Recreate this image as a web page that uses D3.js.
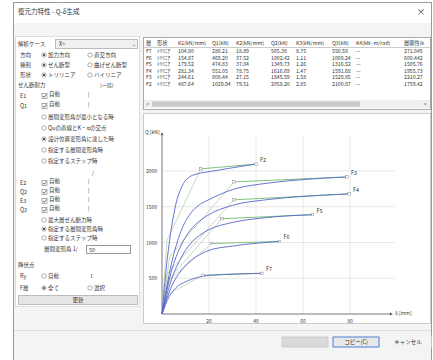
<!DOCTYPE html>
<html>
<head>
<meta charset="utf-8">
<script src="https://cdn.jsdelivr.net/npm/d3@7"></script>
<style>
	body { margin: 0; background: #fff; }
	svg text { font-family: "Noto Sans CJK JP", "Noto Sans", sans-serif; fill: #333; }
</style>
</head>
<body>
<div id="chart"></div>
<script>
// table data
var tableHeaders = ["層", "形状", "K1(kN/mm)", "Q1(kN)", "K2(kN/mm)", "Q2(kN)", "K3(kN/mm)", "Q3(kN)", "K4(kN·m/rad)", "層剛性(k"];
var floors = ["F7", "F6", "F5", "F4", "F3", "F2"];
var shapes = ["ﾄﾘﾘﾆｱ", "ﾄﾘﾘﾆｱ", "ﾄﾘﾘﾆｱ", "ﾄﾘﾘﾆｱ", "ﾄﾘﾘﾆｱ", "ﾄﾘﾘﾆｱ"];
var k1 = ["104.80", "154.87", "179.52", "281.34", "244.61", "487.64"];
var q1 = ["280.21", "469.20", "474.83", "551.05", "808.44", "1029.94"];
var k2 = ["18.89", "37.52", "37.04", "78.75", "27.15", "79.51"];
var q2 = ["565.38", "1002.42", "1349.73", "1616.69", "1845.59", "2058.20"];
var k3 = ["8.75", "1.11", "1.26", "1.47", "1.58", "2.85"];
var q3 = ["550.58", "1008.24", "1316.52", "1591.68", "1528.85", "2100.87"];
var k4 = ["—", "—", "—", "—", "—", "—"];
var stiff = ["271.045", "600.442", "1505.76", "1955.73", "2210.27", "1759.42"];

// chart data: curve labels, skeleton curves [δ(mm), Q(kN)], trilinear models
var curveNames = ["F2", "F3", "F4", "F5", "F6", "F7"];
var skeleton = [
	[[0,0],[2,700],[4,1200],[6,1550],[8,1750],[11,1900],[15,1960],[20,1990],[40,2097]],
	[[0,0],[4,700],[8,1150],[12,1400],[16,1530],[20,1600],[30,1740],[45,1830],[60,1880],[79,1917]],
	[[0,0],[4,600],[8,950],[12,1170],[16,1300],[20,1390],[30,1520],[45,1600],[60,1645],[80,1680]],
	[[0,0],[4,480],[8,780],[12,980],[16,1100],[20,1180],[30,1280],[45,1350],[64,1389]],
	[[0,0],[4,380],[8,600],[12,740],[16,830],[20,890],[30,950],[50,1014]],
	[[0,0],[3,240],[6,370],[10,450],[15,510],[20,540],[42.5,569]]
];
var trilinear = [
	[[0,0],[2.1,1030],[16.5,2030],[40,2097]],
	[[0,0],[3.3,808],[30.6,1847],[78.7,1917]],
	[[0,0],[2,551],[30.6,1597],[79.6,1680]],
	[[0,0],[2.6,475],[25.5,1333],[64,1389]],
	[[0,0],[3,469],[21,986],[50,1014]],
	[[0,0],[2.7,280],[17.5,542],[42.5,569]]
];
var xTicks = [20, 40, 60, 80];
var yTicks = [500, 1000, 1500, 2000];

// left panel rows: [label, y]
var leftLabels = [["解析ケース", 44], ["方向", 55], ["種別", 65], ["形状", 75], ["せん断耐力", 85],
	["E1", 96], ["Q1", 106], ["E2", 183], ["Q2", 192], ["E3", 201], ["Q3", 210], ["降伏点", 265], ["Ry", 276], ["F層", 288]];
var radios = [
	["加力方向", 55, 1, 44], ["直交方向", 55, 0, 90], ["せん断型", 65, 1, 44], ["曲げせん断型", 65, 0, 90],
	["トリリニア", 75, 1, 44], ["バイリニア", 75, 0, 90],
	["層間変形角が最小となる時", 117, 0, 44], ["Quの直線とK・αの交点", 128, 0, 44], ["設計位置変形角に達した時", 139, 1, 44],
	["指定する層間変形角時", 150, 0, 44], ["指定するステップ時", 161, 0, 44],
	["最大層せん断力時", 220, 0, 44], ["指定する層間変形角時", 229, 1, 44], ["指定するステップ時", 238, 0, 44],
	["自動", 276, 0, 44], ["全て", 288, 1, 44], ["選択", 288, 0, 90]
];
var checks = [["自動", 96], ["自動", 106], ["自動", 183], ["自動", 192], ["自動", 201], ["自動", 210]];

var W = 433, H = 360;
var svg = d3.select("#chart").append("svg").attr("width", W).attr("height", H);

// dialog frame
svg.append("rect").attr("x", 13.5).attr("y", 2.5).attr("width", 418).attr("height", 360)
	.attr("fill", "#f4f4f4").attr("stroke", "#9a9a9a");
svg.append("rect").attr("x", 14).attr("y", 3).attr("width", 417).attr("height", 20).attr("fill", "#fff");
svg.append("text").attr("x", 18).attr("y", 14).attr("font-size", 6.5).text("復元力特性 - Q-δ生成");
svg.append("text").attr("x", 421).attr("y", 15).attr("font-size", 9).attr("text-anchor", "middle").text("×");

// left panel
var left = svg.append("g");
left.append("rect").attr("x", 15.5).attr("y", 36.5).attr("width", 124).attr("height", 270).attr("fill", "#fff").attr("stroke", "#ddd");
left.selectAll(".lbl").data(leftLabels).enter().append("text")
	.attr("x", function(d) { return d[0].length > 2 ? 18 : 20; })
	.attr("y", function(d) { return d[1] + 2; })
	.attr("font-size", 5.5)
	.text(function(d) { return d[0]; });

// combo box
left.append("rect").attr("x", 55.5).attr("y", 39.5).attr("width", 82).attr("height", 9).attr("fill", "#f0f0f0").attr("stroke", "#bbb");
left.append("text").attr("x", 59).attr("y", 46).attr("font-size", 5.5).text("X+");
left.append("text").attr("x", 132).attr("y", 46).attr("font-size", 5).attr("fill", "#777").text("⌄");
left.append("text").attr("x", 100).attr("y", 87).attr("font-size", 5).attr("fill", "#aaa").text("(一括)");

var rad = left.selectAll(".radio").data(radios).enter().append("g")
	.attr("transform", function(d) { return "translate(" + d[3] + "," + d[1] + ")"; });
rad.append("circle").attr("r", 2.2).attr("fill", "#fff").attr("stroke", "#777").attr("stroke-width", 0.6);
rad.filter(function(d) { return d[2]; }).append("circle").attr("r", 1.1).attr("fill", "#333");
rad.append("text").attr("x", 4).attr("y", 2).attr("font-size", 5.5)
	.attr("fill", function(d) { return d[1] === 276 || d[0] === "選択" ? "#aaa" : "#333"; })
	.text(function(d) { return d[0]; });

var chk = left.selectAll(".check").data(checks).enter().append("g")
	.attr("transform", function(d) { return "translate(42," + (d[1] - 2.5) + ")"; });
chk.append("rect").attr("width", 5).attr("height", 5).attr("fill", "#fff").attr("stroke", "#777").attr("stroke-width", 0.6);
chk.append("path").attr("d", "M1,2.5 L2.2,3.8 L4.2,1").attr("fill", "none").attr("stroke", "#333").attr("stroke-width", 0.7);
chk.append("text").attr("x", 7).attr("y", 2.5).attr("font-size", 5.5).text(function(d) { return d[0]; });
chk.append("text").attr("x", 46).attr("y", 2.5).attr("font-size", 5).attr("fill", "#aaa").text("|");

left.append("text").attr("x", 92).attr("y", 175).attr("font-size", 5).attr("fill", "#aaa").text("/");
left.append("text").attr("x", 90).attr("y", 278).attr("font-size", 5).attr("fill", "#888").text("1");

// drift angle input
left.append("text").attr("x", 44).attr("y", 251).attr("font-size", 5.5).text("層間変形角 1/");
left.append("rect").attr("x", 86.5).attr("y", 245.5).attr("width", 44).attr("height", 8).attr("fill", "#fff").attr("stroke", "#999");
left.append("text").attr("x", 89).attr("y", 251.5).attr("font-size", 5.5).text("50");

// update button
left.append("rect").attr("x", 18.5).attr("y", 295.5).attr("width", 119).attr("height", 9).attr("fill", "#e6e6e6").attr("stroke", "#bbb");
left.append("text").attr("x", 78).attr("y", 302).attr("font-size", 5.5).attr("text-anchor", "middle").text("更新");

// table
var tb = svg.append("g");
tb.append("rect").attr("x", 143.5).attr("y", 37.5).attr("width", 287).attr("height", 72).attr("fill", "#fff").attr("stroke", "#aaa");
var colX = [146, 157, 178, 212, 236, 271, 296, 332, 356, 404];
var numCols = [k1, q1, k2, q2, k3, q3, k4, stiff];
tb.selectAll(".hd").data(tableHeaders).enter().append("text")
	.attr("x", function(d, i) { return colX[i]; })
	.attr("y", 45).attr("font-size", 5.2)
	.text(function(d) { return d; });
tb.append("line").attr("x1", 144).attr("x2", 430).attr("y1", 47.5).attr("y2", 47.5).attr("stroke", "#ccc");
floors.forEach(function(f, r) {
	var y = 53 + r * 6.5;
	var row = [f, shapes[r]].concat(numCols.map(function(c) { return c[r]; }));
	tb.selectAll(".row" + r).data(row).enter().append("text")
		.attr("x", function(d, i) { return colX[i]; })
		.attr("y", y).attr("font-size", 5.2)
		.text(function(d) { return d; });
});
// scrollbar
tb.append("rect").attr("x", 144).attr("y", 100).attr("width", 286).attr("height", 8).attr("fill", "#f0f0f0");
tb.append("rect").attr("x", 152).attr("y", 101.5).attr("width", 208).attr("height", 5).attr("fill", "#c8c8c8");
tb.append("text").attr("x", 146).attr("y", 106).attr("font-size", 5).attr("fill", "#777").text("<");
tb.append("text").attr("x", 424).attr("y", 106).attr("font-size", 5).attr("fill", "#777").text(">");

// chart panel
svg.append("rect").attr("x", 143.5).attr("y", 113.5).attr("width", 287).attr("height", 210).attr("fill", "#fff").attr("stroke", "#ccc");
var x = d3.scaleLinear().domain([0, 80]).range([162, 350]);
var y = d3.scaleLinear().domain([0, 2000]).range([314, 171]);
var plot = svg.append("g");

// grid
plot.selectAll(".gy").data(yTicks).enter().append("line")
	.attr("x1", x(0)).attr("x2", x(99)).attr("y1", function(d) { return y(d); }).attr("y2", function(d) { return y(d); })
	.attr("stroke", "#d8d8d8").attr("stroke-width", 0.6);
plot.selectAll(".gx").data(xTicks).enter().append("line")
	.attr("x1", function(d) { return x(d); }).attr("x2", function(d) { return x(d); }).attr("y1", y(0)).attr("y2", y(2500))
	.attr("stroke", "#d8d8d8").attr("stroke-width", 0.6);

// axes
plot.append("line").attr("x1", x(0)).attr("x2", x(97)).attr("y1", y(0)).attr("y2", y(0)).attr("stroke", "#555").attr("stroke-width", 0.8);
plot.append("line").attr("x1", x(0)).attr("x2", x(0)).attr("y1", y(0)).attr("y2", y(2500)).attr("stroke", "#555").attr("stroke-width", 0.8);
plot.append("path").attr("d", "M" + x(97) + "," + (y(0) - 1.5) + "l3,1.5l-3,1.5z").attr("fill", "#555");
plot.append("path").attr("d", "M" + (x(0) - 1.5) + "," + y(2500) + "l1.5,-3l1.5,3z").attr("fill", "#555");
plot.selectAll(".ty").data(yTicks).enter().append("text")
	.attr("x", x(0) - 5).attr("y", function(d) { return y(d) + 2; })
	.attr("text-anchor", "end").attr("font-size", 5).text(function(d) { return d; });
plot.selectAll(".tx").data(xTicks).enter().append("text")
	.attr("x", function(d) { return x(d); }).attr("y", y(0) + 9)
	.attr("text-anchor", "middle").attr("font-size", 5).text(function(d) { return d; });
plot.append("text").attr("x", 145).attr("y", y(2500) - 1).attr("font-size", 5).text("Q [kN]");
plot.append("text").attr("x", x(97) + 5).attr("y", y(0) + 1).attr("font-size", 5).text("δ [mm]");

var line = d3.line().x(function(d) { return x(d[0]); }).y(function(d) { return y(d[1]); });
var curve = d3.line().curve(d3.curveMonotoneX).x(function(d) { return x(d[0]); }).y(function(d) { return y(d[1]); });

// trilinear models
plot.selectAll(".tri").data(trilinear).enter().append("path")
	.attr("d", function(d) { return line(d.slice(0, 3)); })
	.attr("fill", "none").attr("stroke", "#b3c9a8").attr("stroke-width", 0.7);
plot.selectAll(".plat").data(trilinear).enter().append("path")
	.attr("d", function(d) { return line(d.slice(2)); })
	.attr("fill", "none").attr("stroke", "#7fc27f").attr("stroke-width", 1);
// skeleton curves
plot.selectAll(".skel").data(skeleton).enter().append("path")
	.attr("d", curve)
	.attr("fill", "none").attr("stroke", "#5566cc").attr("stroke-width", 0.9);
// kink markers
plot.selectAll(".mk").data(trilinear).enter().append("rect")
	.attr("x", function(d) { return x(d[2][0]) - 1.2; }).attr("y", function(d) { return y(d[2][1]) - 1.2; })
	.attr("width", 2.4).attr("height", 2.4).attr("fill", "#fff").attr("stroke", "#888").attr("stroke-width", 0.5);
plot.selectAll(".end").data(trilinear).enter().append("rect")
	.attr("x", function(d) { return x(d[3][0]) - 1.2; }).attr("y", function(d) { return y(d[3][1]) - 1.2; })
	.attr("width", 2.4).attr("height", 2.4).attr("fill", "#fff").attr("stroke", "#888").attr("stroke-width", 0.5);
plot.selectAll(".nm").data(trilinear).enter().append("text")
	.attr("x", function(d) { return x(d[3][0]) + 4; }).attr("y", function(d) { return y(d[3][1]) - 2; })
	.attr("font-size", 5.5).text(function(d, i) { return curveNames[i]; });

// bottom buttons
svg.append("line").attr("x1", 14).attr("x2", 431).attr("y1", 330.5).attr("y2", 330.5).attr("stroke", "#ddd");
var btnData = [["", 282, "#d9d9d9", "#ccc"], ["コピー(C)", 333, "#e8e8e8", "#4a7fd0"], ["キャンセル", 385, "#f4f4f4", "#f4f4f4"]];
var btn = svg.selectAll(".btn").data(btnData).enter().append("g")
	.attr("transform", function(d) { return "translate(" + d[1] + ",337)"; });
btn.append("rect").attr("width", 46).attr("height", 10).attr("fill", function(d) { return d[2]; }).attr("stroke", function(d) { return d[3]; });
btn.append("text").attr("x", 23).attr("y", 7).attr("text-anchor", "middle").attr("font-size", 5.5).text(function(d) { return d[0]; });
</script>
</body>
</html>
